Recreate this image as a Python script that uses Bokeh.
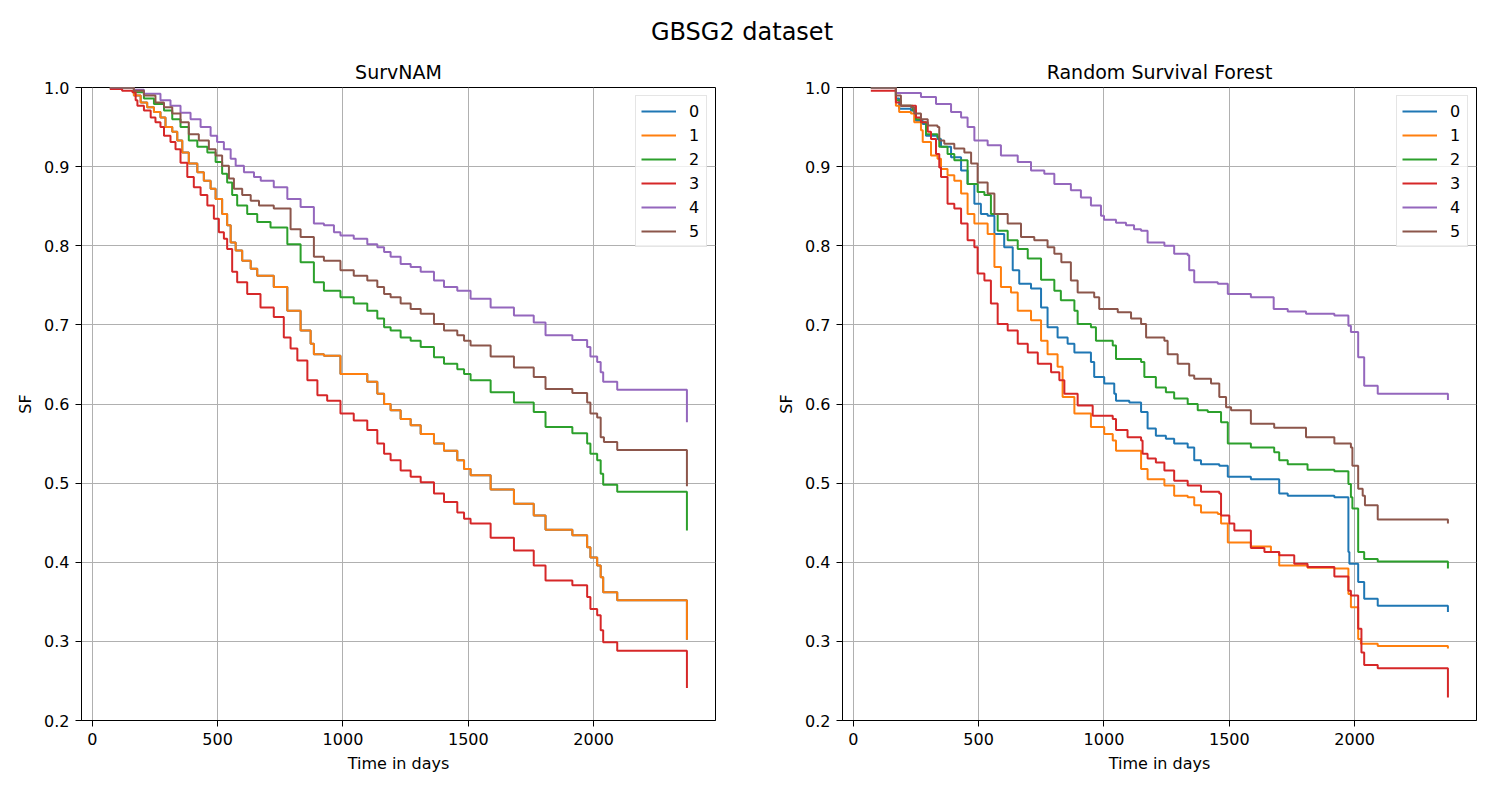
from bokeh.plotting import figure
from bokeh.layouts import column, row
from bokeh.models import Div, Range1d, FixedTicker, PrintfTickFormatter
from bokeh.embed import file_html
from bokeh.resources import INLINE

SUPTITLE = "GBSG2 dataset"
TITLES = ["SurvNAM", "Random Survival Forest"]
X_LABEL = "Time in days"
Y_LABEL = "SF"
LABELS = ["0", "1", "2", "3", "4", "5"]
COLORS = ["#1f77b4", "#ff7f0e", "#2ca02c", "#d62728", "#9467bd", "#8c564b"]
X_TICKS = [0, 500, 1000, 1500, 2000]
Y_TICKS = [0.2, 0.3, 0.4, 0.5, 0.6, 0.7, 0.8, 0.9, 1.0]

# ---------------- SurvNAM (left) ----------------
L1_t = [70, 166, 193, 219, 246, 272, 292, 319, 339, 359, 385, 419, 445, 472, 492, 518, 538, 552, 572, 598,
        632, 658, 724, 778, 831, 871, 884, 924, 990, 1097, 1137, 1164, 1190, 1230, 1270, 1310, 1363, 1403, 1456, 1483,
        1509, 1589, 1682, 1761, 1808, 1915, 1974, 1987, 2014, 2028, 2038, 2094, 2372]
L1_s = [1.0, 0.990, 0.981, 0.975, 0.969, 0.962, 0.950, 0.944, 0.933, 0.918, 0.904, 0.893, 0.882, 0.872, 0.859, 0.840, 0.826, 0.804, 0.794, 0.781,
        0.771, 0.762, 0.748, 0.718, 0.693, 0.676, 0.663, 0.661, 0.638, 0.628, 0.613, 0.600, 0.592, 0.581, 0.573, 0.562, 0.550, 0.541, 0.529, 0.518,
        0.510, 0.492, 0.474, 0.459, 0.441, 0.434, 0.419, 0.406, 0.396, 0.381, 0.362, 0.352, 0.302]
L0_t = list(L1_t)
L0_s = list(L1_s)
L2_t = [70, 166, 206, 246, 286, 319, 352, 385, 419, 459, 492, 518, 538, 558, 578, 618, 658, 711, 778, 831,
        884, 924, 990, 1043, 1097, 1137, 1164, 1190, 1230, 1270, 1310, 1363, 1403, 1456, 1483, 1509, 1589, 1682, 1761, 1808,
        1915, 1974, 1987, 2014, 2028, 2038, 2094, 2372]
L2_s = [1.0, 0.994, 0.986, 0.979, 0.971, 0.960, 0.950, 0.933, 0.925, 0.918, 0.906, 0.891, 0.880, 0.864, 0.851, 0.840, 0.830, 0.823, 0.802, 0.779,
        0.754, 0.743, 0.735, 0.727, 0.718, 0.708, 0.697, 0.693, 0.684, 0.680, 0.672, 0.659, 0.651, 0.644, 0.638, 0.630, 0.615, 0.602, 0.590, 0.571,
        0.563, 0.550, 0.537, 0.529, 0.512, 0.498, 0.489, 0.440]
L3_t = [70, 119, 160, 173, 180, 206, 233, 252, 272, 286, 312, 332, 352, 379, 405, 432, 459, 485, 505, 525,
        538, 558, 578, 618, 671, 724, 764, 791, 818, 858, 898, 937, 990, 1043, 1097, 1137, 1164, 1190, 1230, 1270,
        1310, 1363, 1403, 1456, 1483, 1509, 1589, 1682, 1761, 1808, 1915, 1974, 1987, 2014, 2028, 2038, 2094, 2372]
L3_s = [0.998, 0.996, 0.994, 0.984, 0.977, 0.971, 0.962, 0.956, 0.950, 0.939, 0.931, 0.922, 0.905, 0.887, 0.874, 0.864, 0.851, 0.834, 0.817, 0.809,
        0.796, 0.767, 0.754, 0.739, 0.722, 0.710, 0.684, 0.670, 0.655, 0.630, 0.611, 0.604, 0.588, 0.579, 0.567, 0.550, 0.537, 0.529, 0.516, 0.508,
        0.501, 0.487, 0.476, 0.463, 0.455, 0.449, 0.431, 0.415, 0.396, 0.377, 0.371, 0.356, 0.341, 0.333, 0.314, 0.299, 0.288, 0.241]
L4_t = [70, 166, 206, 272, 312, 352, 392, 432, 472, 498, 525, 552, 572, 605, 645, 672, 724, 778, 831, 884,
        924, 964, 990, 1043, 1097, 1137, 1164, 1190, 1230, 1270, 1310, 1363, 1403, 1456, 1509, 1589, 1682, 1761, 1808, 1915,
        1974, 1987, 2014, 2028, 2038, 2094, 2372]
L4_s = [1.0, 0.997, 0.992, 0.984, 0.977, 0.968, 0.960, 0.950, 0.939, 0.931, 0.922, 0.910, 0.901, 0.893, 0.887, 0.882, 0.874, 0.859, 0.849, 0.828,
        0.826, 0.817, 0.813, 0.809, 0.802, 0.798, 0.792, 0.786, 0.777, 0.773, 0.767, 0.756, 0.748, 0.743, 0.733, 0.722, 0.712, 0.703, 0.687, 0.681,
        0.672, 0.660, 0.653, 0.640, 0.628, 0.618, 0.577]
L5_t = [70, 166, 206, 252, 286, 319, 352, 385, 425, 465, 492, 518, 545, 565, 598, 632, 665, 724, 791, 831,
        884, 924, 990, 1043, 1097, 1137, 1164, 1190, 1230, 1270, 1310, 1363, 1403, 1456, 1483, 1509, 1589, 1682, 1761, 1808,
        1915, 1974, 1987, 2014, 2028, 2041, 2094, 2372]
L5_s = [1.0, 0.996, 0.990, 0.981, 0.975, 0.967, 0.956, 0.941, 0.933, 0.922, 0.914, 0.901, 0.885, 0.872, 0.864, 0.857, 0.851, 0.847, 0.821, 0.811,
        0.786, 0.781, 0.769, 0.762, 0.756, 0.748, 0.739, 0.735, 0.727, 0.720, 0.714, 0.701, 0.693, 0.687, 0.680, 0.674, 0.660, 0.646, 0.634, 0.619,
        0.614, 0.602, 0.588, 0.583, 0.558, 0.552, 0.542, 0.496]

# ---------------- Random Survival Forest (right) ----------------
R0_t = [70, 170, 183, 230, 250, 277, 290, 336, 350, 390, 430, 456, 483, 509, 536, 563, 602, 636, 662, 709,
        749, 775, 815, 855, 882, 948, 961, 1001, 1041, 1048, 1101, 1148, 1174, 1207, 1247, 1280, 1334, 1360, 1387, 1460,
        1494, 1586, 1699, 1733, 1919, 1975, 1979, 2014, 2038, 2092, 2372]
R0_s = [1.0, 0.986, 0.973, 0.971, 0.958, 0.954, 0.939, 0.935, 0.925, 0.912, 0.895, 0.878, 0.853, 0.840, 0.838, 0.815, 0.798, 0.769, 0.752, 0.746,
        0.722, 0.697, 0.684, 0.676, 0.665, 0.653, 0.634, 0.626, 0.613, 0.604, 0.602, 0.590, 0.569, 0.560, 0.556, 0.550, 0.545, 0.529, 0.524, 0.522,
        0.508, 0.505, 0.487, 0.484, 0.482, 0.413, 0.398, 0.375, 0.354, 0.345, 0.337]
R1_t = [70, 170, 183, 230, 243, 270, 277, 310, 336, 350, 376, 403, 430, 456, 483, 536, 563, 589, 629, 656,
        709, 749, 775, 815, 835, 882, 948, 1001, 1035, 1048, 1148, 1174, 1241, 1280, 1334, 1360, 1387, 1454, 1467, 1494,
        1586, 1666, 1699, 1812, 1919, 1975, 1985, 2014, 2025, 2092, 2372]
R1_s = [1.0, 0.977, 0.969, 0.967, 0.956, 0.946, 0.931, 0.914, 0.910, 0.897, 0.889, 0.882, 0.866, 0.840, 0.828, 0.815, 0.773, 0.748, 0.741, 0.718,
        0.706, 0.680, 0.663, 0.647, 0.609, 0.588, 0.571, 0.562, 0.554, 0.541, 0.518, 0.505, 0.497, 0.484, 0.482, 0.472, 0.463, 0.461, 0.449, 0.425,
        0.420, 0.413, 0.396, 0.393, 0.392, 0.360, 0.343, 0.303, 0.297, 0.294, 0.291]
R2_t = [70, 170, 190, 237, 250, 270, 290, 336, 343, 376, 403, 456, 496, 523, 549, 576, 616, 656, 696, 749,
        802, 828, 882, 895, 948, 968, 1035, 1048, 1148, 1161, 1207, 1247, 1280, 1334, 1374, 1414, 1467, 1494, 1586, 1679,
        1699, 1733, 1812, 1919, 1975, 1985, 1991, 2014, 2038, 2092, 2372]
R2_s = [1.0, 0.984, 0.977, 0.971, 0.960, 0.956, 0.941, 0.937, 0.925, 0.916, 0.908, 0.878, 0.868, 0.864, 0.840, 0.819, 0.807, 0.796, 0.784, 0.757,
        0.743, 0.731, 0.718, 0.701, 0.697, 0.680, 0.674, 0.657, 0.653, 0.634, 0.621, 0.615, 0.607, 0.600, 0.592, 0.590, 0.577, 0.550, 0.545, 0.539,
        0.529, 0.524, 0.517, 0.515, 0.499, 0.482, 0.468, 0.413, 0.404, 0.401, 0.392]
R3_t = [70, 170, 190, 250, 270, 297, 310, 330, 343, 350, 376, 403, 430, 456, 483, 496, 523, 549, 576, 616,
        656, 696, 736, 789, 822, 842, 895, 955, 1035, 1048, 1094, 1148, 1154, 1174, 1207, 1241, 1280, 1334, 1387, 1460,
        1467, 1500, 1520, 1586, 1640, 1699, 1759, 1812, 1919, 1975, 1985, 2014, 2027, 2038, 2092, 2372]
R3_s = [0.996, 0.981, 0.977, 0.962, 0.956, 0.944, 0.935, 0.916, 0.899, 0.887, 0.853, 0.847, 0.828, 0.807, 0.798, 0.765, 0.756, 0.727, 0.701, 0.693,
        0.676, 0.665, 0.651, 0.640, 0.630, 0.613, 0.598, 0.585, 0.581, 0.567, 0.558, 0.554, 0.537, 0.531, 0.526, 0.516, 0.503, 0.497, 0.489, 0.487,
        0.459, 0.449, 0.440, 0.418, 0.413, 0.409, 0.398, 0.394, 0.382, 0.364, 0.358, 0.316, 0.286, 0.270, 0.266, 0.229]
R4_t = [70, 170, 270, 330, 390, 430, 456, 483, 536, 589, 656, 709, 762, 802, 868, 908, 948, 988, 1000, 1048,
        1088, 1120, 1148, 1174, 1241, 1280, 1334, 1340, 1360, 1454, 1494, 1586, 1677, 1733, 1806, 1919, 1975, 1985, 2014, 2038,
        2092, 2372]
R4_s = [1.0, 0.993, 0.988, 0.979, 0.969, 0.962, 0.950, 0.933, 0.927, 0.914, 0.906, 0.895, 0.891, 0.878, 0.870, 0.861, 0.851, 0.838, 0.833, 0.829,
        0.826, 0.821, 0.819, 0.804, 0.800, 0.790, 0.788, 0.769, 0.754, 0.752, 0.739, 0.735, 0.720, 0.717, 0.714, 0.712, 0.699, 0.691, 0.659, 0.623,
        0.613, 0.605]
R5_t = [70, 170, 190, 230, 243, 270, 297, 336, 343, 363, 403, 443, 470, 496, 536, 563, 616, 669, 722, 775,
        802, 830, 868, 895, 961, 981, 1055, 1108, 1148, 1168, 1241, 1254, 1294, 1340, 1360, 1427, 1460, 1487, 1507, 1586,
        1679, 1806, 1919, 1985, 1991, 2014, 2032, 2041, 2092, 2372]
R5_s = [1.0, 0.990, 0.977, 0.975, 0.967, 0.960, 0.952, 0.950, 0.933, 0.929, 0.923, 0.918, 0.904, 0.880, 0.866, 0.840, 0.828, 0.811, 0.807, 0.798,
        0.790, 0.779, 0.756, 0.741, 0.735, 0.720, 0.716, 0.708, 0.701, 0.684, 0.680, 0.663, 0.651, 0.636, 0.632, 0.626, 0.609, 0.596, 0.592, 0.575,
        0.570, 0.558, 0.550, 0.545, 0.522, 0.493, 0.484, 0.472, 0.454, 0.449]

LEFT = [(L0_t, L0_s), (L1_t, L1_s), (L2_t, L2_s), (L3_t, L3_s), (L4_t, L4_s), (L5_t, L5_s)]
RIGHT = [(R0_t, R0_s), (R1_t, R1_s), (R2_t, R2_s), (R3_t, R3_s), (R4_t, R4_s), (R5_t, R5_s)]

FONT = "DejaVu Sans"


def make_fig(title, series, width, mb_left, mb_right):
    p = figure(width=width, height=734, output_backend="svg", toolbar_location=None,
               x_range=Range1d(-43, 2486), y_range=Range1d(0.2, 1.0), title=title,
               min_border_left=mb_left, min_border_right=mb_right,
               min_border_top=39, min_border_bottom=62)
    p.title.align = "center"
    p.title.text_font = FONT
    p.title.text_font_size = "19px"
    p.title.text_font_style = "normal"
    p.title.text_color = "black"
    p.background_fill_color = "white"
    p.border_fill_color = "white"
    p.outline_line_color = "black"
    p.outline_line_width = 1
    p.xaxis.ticker = FixedTicker(ticks=X_TICKS)
    p.yaxis.ticker = FixedTicker(ticks=Y_TICKS)
    p.yaxis.formatter = PrintfTickFormatter(format="%.1f")
    p.xaxis.axis_label = X_LABEL
    p.yaxis.axis_label = Y_LABEL
    for ax in (p.xaxis, p.yaxis):
        ax.axis_label_text_font = FONT
        ax.axis_label_text_font_size = "16px"
        ax.axis_label_text_font_style = "normal"
        ax.axis_label_text_color = "black"
        ax.major_label_text_font = FONT
        ax.major_label_text_font_size = "16px"
        ax.major_label_text_color = "black"
        ax.axis_line_color = "black"
        ax.major_tick_line_color = "black"
        ax.major_tick_out = 6
        ax.major_tick_in = 0
        ax.minor_tick_line_color = None
        ax.major_label_standoff = 6
        ax.axis_label_standoff = 6
    p.grid.grid_line_color = "#b0b0b0"
    p.grid.grid_line_width = 1
    for (t, s), c, lab in zip(series, COLORS, LABELS):
        p.step(t, s, mode="after", line_color=c, line_width=2, legend_label=lab)
    lg = p.legend[0]
    lg.location = "top_right"
    lg.margin = 8
    lg.padding = 5
    lg.spacing = 4
    lg.glyph_width = 35
    lg.glyph_height = 20
    lg.label_height = 20
    lg.label_width = 12
    lg.label_standoff = 13
    lg.label_text_font = FONT
    lg.label_text_font_size = "16px"
    lg.label_text_color = "black"
    lg.border_line_color = "#cccccc"
    lg.border_line_width = 1
    lg.background_fill_color = "white"
    lg.background_fill_alpha = 0.8
    return p


p1 = make_fig(TITLES[0], LEFT, 768, 81, 53)
p2 = make_fig(TITLES[1], RIGHT, 716, 74, 8)

head = Div(text=f'<div style="width:1484px;text-align:center;font-family:\'DejaVu Sans\';'
                f'font-size:24px;line-height:24px;padding-top:20px;color:black">{SUPTITLE}</div>',
           width=1484, height=48, margin=(0, 0, 0, 0))

layout = column(head, row(p1, p2, spacing=0), spacing=0)
open("out.html", "w").write(file_html(layout, INLINE))
